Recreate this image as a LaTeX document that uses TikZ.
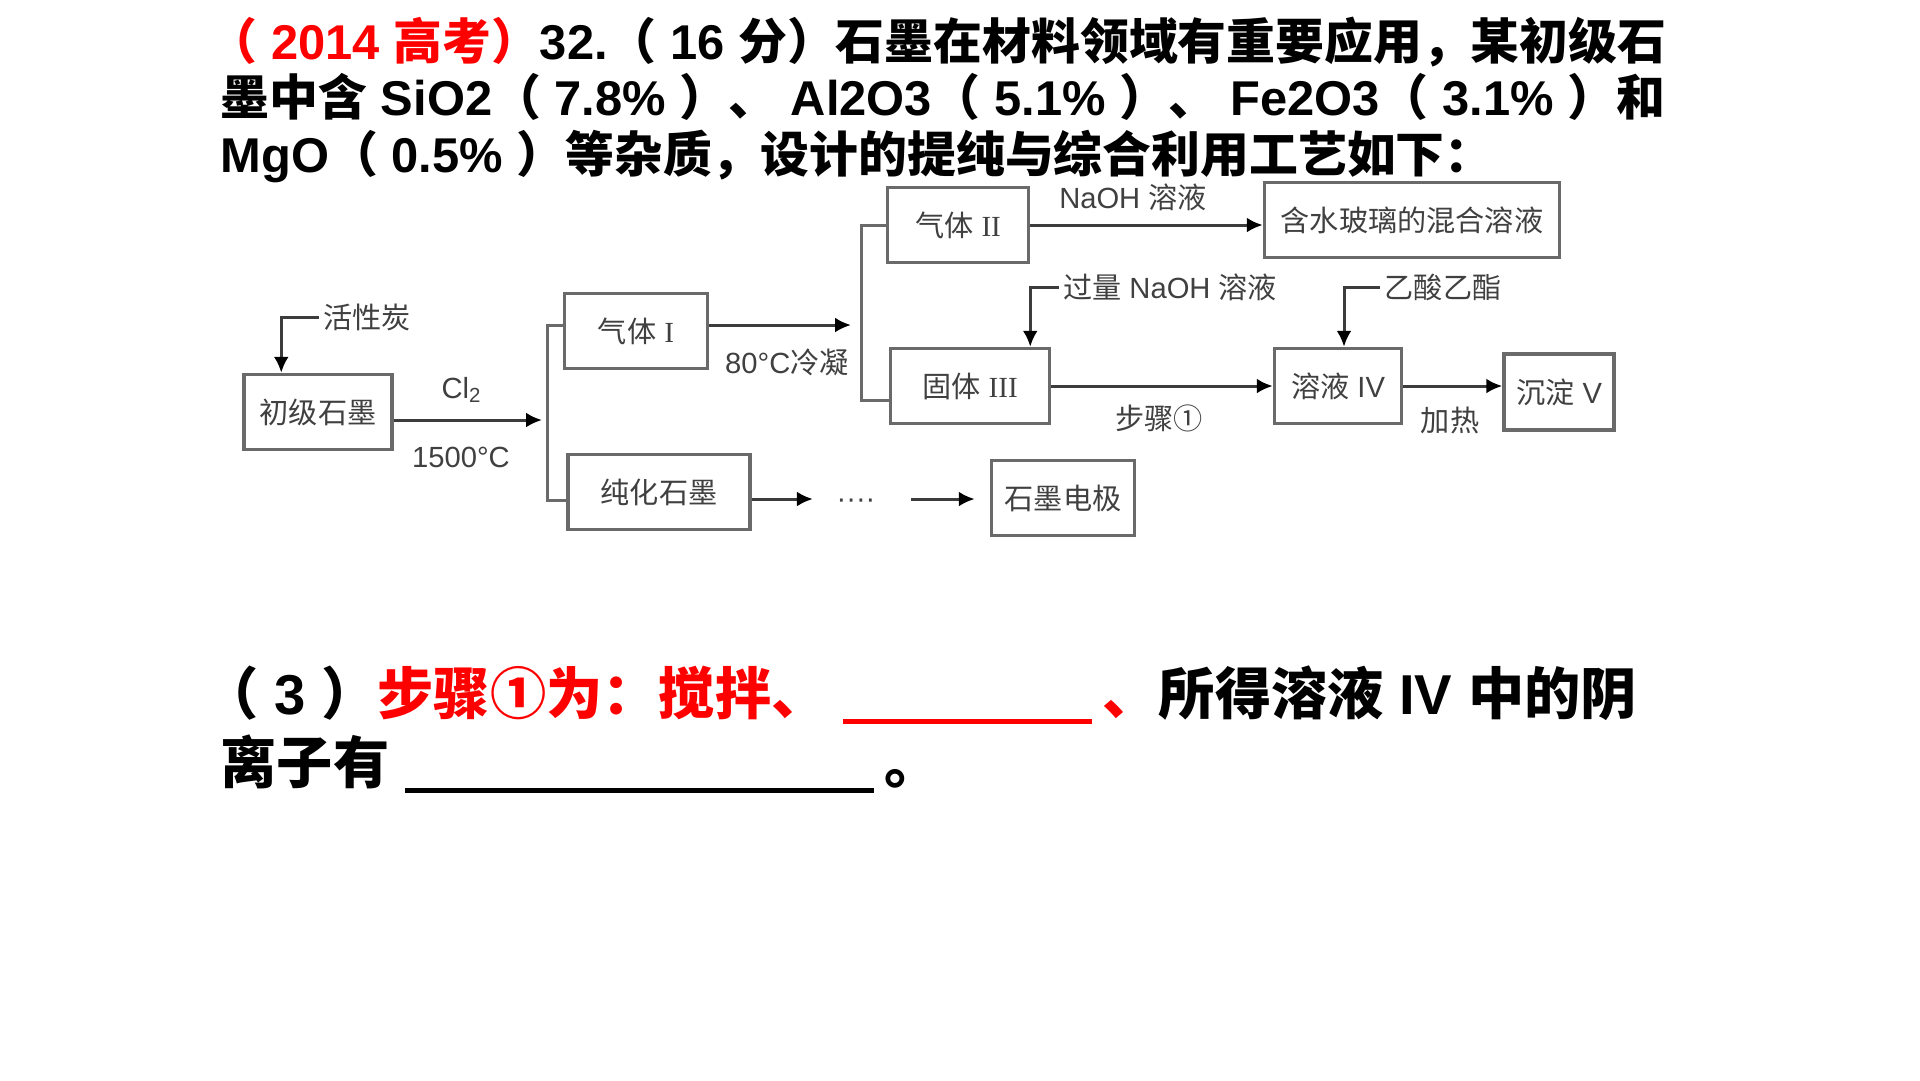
\documentclass[tikz,border=0pt]{standalone}
\usepackage{fontspec}
\setmainfont{Liberation Sans}
\newfontfamily\cjk{Noto Sans CJK SC}
\newfontfamily\romnum{Liberation Serif}
\usetikzlibrary{arrows.meta,calc}
\definecolor{ink}{HTML}{404040}
\definecolor{frame}{HTML}{6A6A6A}
\definecolor{wire}{HTML}{3C3C3C}
\newcommand\zh[1]{{\cjk #1}}
\newcommand\rn[1]{{\romnum #1}}
\tikzset{
  stage/.style={draw=frame, line width=0.35mm, minimum height=7.5mm, inner sep=0pt,
    text=ink, font=\fontsize{8.3}{10}\selectfont},
  lbl/.style={text=ink, inner sep=1pt, font=\fontsize{8.3}{10}\selectfont},
  feed/.style={draw=wire, line width=0.3mm, -{Latex[length=1.6mm,width=1.5mm,color=black]}},
  fork/.style={draw=frame, line width=0.3mm},
  ques/.style={anchor=base west, inner sep=0pt, font=\bfseries\fontsize{13.9}{16}\selectfont},
  ans/.style={ques, font=\bfseries\fontsize{16}{18}\selectfont},
}
\begin{document}
\begin{tikzpicture}[x=0.1mm, y=-0.1mm]
\useasboundingbox (0,0) rectangle (1920,1080);
% question
\node[ques] (q1) at (208,59) {\textcolor{red}{\zh{（} 2014 \zh{高考）}}32.\zh{（} 16 \zh{分）石墨在材料领域有重要应用，某初级石}};
\node[ques] (q2) at (220,115) {\zh{墨中含} SiO2\zh{（} 7.8\% \zh{）、} Al2O3\zh{（} 5.1\% \zh{）、} Fe2O3\zh{（} 3.1\% \zh{）和}};
\node[ques] (q3) at (220,172) {MgO\zh{（} 0.5\% \zh{）等杂质，设计的提纯与综合利用工艺如下：}};

% flow chart
\node[stage, minimum width=14.8mm] (chuji) at (318,412) {\zh{初级石墨}};
\node[stage, minimum width=14.3mm] (qiti1) at (636,331) {\zh{气体} \rn{I}};
\node[stage, minimum width=18.2mm] (chunhua) at (659,492) {\zh{纯化石墨}};
\node[stage, minimum width=14.3mm] (dianji) at (1063,498) {\zh{石墨电极}};
\node[stage, minimum width=14.1mm] (qiti2) at (958,225) {\zh{气体} \rn{II}};
\node[stage, minimum width=29.5mm] (boli) at (1412,220) {\zh{含水玻璃的混合溶液}};
\node[stage, minimum width=15.9mm] (guti3) at (970,386) {\zh{固体} \rn{III}};
\node[stage, minimum width=12.7mm] (rongye4) at (1338,386) {\zh{溶液} IV};
\node[stage, minimum width=11mm, minimum height=7.6mm] (chendian5) at (1559,392) {\zh{沉淀} V};

\node[lbl] (huoxingtan) at (367,317) {\zh{活性炭}};
\node[lbl] (cl2) at (462,390) {Cl\textsubscript{2}};
\node[lbl] (wendu) at (461,457) {1500°C};
\node[lbl] (lengning) at (787,362) {80°C\zh{冷凝}};
\node[lbl] (naoh) at (1133,197) {NaOH \zh{溶液}};
\node[lbl] (guoliang) at (1170,287) {\zh{过量} NaOH \zh{溶液}};
\node[lbl] (yisuan) at (1443,287) {\zh{乙酸乙酯}};
\node[lbl] (buzhou) at (1159,418) {\zh{步骤①}};
\node[lbl] (jiare) at (1450,420) {\zh{加热}};
\node[lbl, inner sep=0pt] (dots) at (856,504) {····};

\coordinate (f1) at (547,420);
\coordinate (f2) at (861,325);
\coordinate (row) at ($(chunhua.east)+(0,7)$);
\draw[feed] (huoxingtan.west) -| ($(chuji.north west)+(39,0)$);
\draw[feed, shorten >=0.5mm] ($(chuji.east)+(0,8)$) -- (f1);
\draw[fork] ($(qiti1.west)+(0,-6)$) -| (f1) |- ($(chunhua.west)+(0,8)$);
\draw[feed, shorten >=1mm] ($(qiti1.east)+(0,-6)$) -- (f2);
\draw[fork] (qiti2.west) -| (f2) |- ($(guti3.west)+(0,14)$);
\draw[feed] (qiti2.east) -- (qiti2.east -| boli.west);
\draw[feed] (guoliang.west) -| ($(guti3.north east)+(-21,0)$);
\draw[feed] (yisuan.west) -| ($(rongye4.north)+(6,0)$);
\draw[feed] (guti3) -- (rongye4);
\draw[feed] (rongye4.east) -- (rongye4.east -| chendian5.west);
\draw[feed, shorten >=2.3mm] (row) -- (row -| dots.west);
\draw[feed, shorten <=3.5mm, shorten >=1.5mm] (row -| dots.east) -- (row -| dianji.west);

% part (3)
\node[ans] (q4) at (202,714) {\zh{（} 3 \zh{）}\textcolor{red}{\zh{步骤①为：搅拌、} \rule[-2.8pt]{70.8pt}{1.4pt}\hspace{3pt}\zh{、}}\zh{所得溶液} IV \zh{中的阴}};
\node[ans] (q5) at (220,783) {\zh{离子有} \rule[-2.8pt]{133.4pt}{1.4pt}\hspace{3pt}\zh{。}};
\end{tikzpicture}
\end{document}
